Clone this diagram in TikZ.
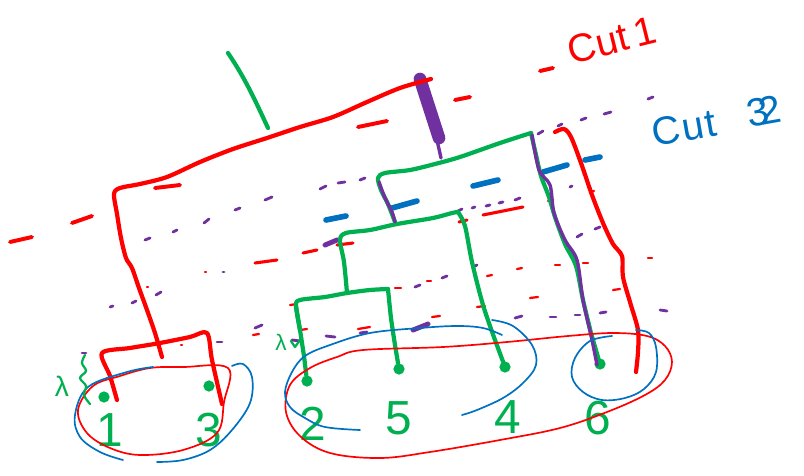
\documentclass[tikz,border=0pt]{standalone}
\usepackage{fontspec}
\setmainfont{Liberation Sans}
\usetikzlibrary{positioning}
\definecolor{cutred}{RGB}{255,0,0}
\definecolor{treegreen}{RGB}{0,176,80}
\definecolor{cutblue}{RGB}{0,112,192}
\definecolor{cutpurple}{RGB}{112,48,160}

\begin{document}
\begin{tikzpicture}[
  x=0.025cm, y=-0.025cm,
  pen/.style={line width=3pt, line cap=round, line join=round},
  fine/.style={line width=1.2pt, line cap=round, line join=round},
  speck/.style={line width=2pt, line cap=round},
  leaf/.style={circle, fill=treegreen, inner sep=0pt, minimum size=8pt},
  digit/.style={text=treegreen, font=\fontsize{34}{34}\selectfont},
  lam/.style={text=treegreen, inner sep=0pt, font=\fontsize{20}{20}\selectfont},
  cutnote/.style={inner sep=0pt, font=\fontsize{28}{28}\selectfont}
]
\useasboundingbox (0,0) rectangle (804,475);

% cut lines (hand dashes)
\foreach \xa/\ya/\xb/\yb in {10/242/32/237, 72/223/92/216, 155/188/180/185,
    358/127/387/121, 455/100/470/97, 540/71/553/68}
  \draw[speck, line width=2.8pt, cutred] (\xa,\ya) -- (\xb,\yb);
\foreach \xa/\ya/\xb/\yb in {255/263/277/260, 303/253/317/250, 337/245/353/243,
    483/215/523/207, 459/222/467/220}
  \draw[speck, line width=2.2pt, cutred] (\xa,\ya) -- (\xb,\yb);
\foreach \xa/\ya/\xb/\yb in {147/287/148/287, 205/272/206/272, 181/345/182/345,
    253/335/259/334, 300/330/307/329, 358/329/370/327, 432/317/440/316,
    477/307/485/306, 530/298/538/297, 613/290/620/289, 290/305/297/304,
    395/288/401/288, 427/281/431/281, 487/276/492/275, 517/269/522/268,
    555/265/560/265, 583/263/588/263, 648/258/652/258, 590/192/594/191,
    548/201/553/200}
  \draw[speck, line width=1.6pt, cutred] (\xa,\ya) -- (\xb,\yb);
\foreach \xa/\ya/\xb/\yb in {326/220/346/216, 392/208/417/201, 473/186/498/180,
    543/172/567/165, 585/160/600/157}
  \draw[speck, line width=4pt, cutblue] (\xa,\ya) -- (\xb,\yb);
\foreach \xa/\ya/\xb/\yb in {145/240/150/238, 173/232/177/230, 204/223/209/219,
    235/210/240/208, 265/200/272/197, 320/189/326/186, 338/183/345/182,
    360/180/365/178, 538/134/543/131, 558/126/562/124, 581/120/586/118,
    604/114/611/112, 648/99/653/97, 458/211/462/209, 472/208/475/207,
    486/206/490/205, 499/203/503/202, 515/200/520/198, 110/307/113/306,
    132/303/136/301, 156/295/161/292, 223/272/224/272, 415/287/420/285,
    442/278/447/276, 473/267/477/265, 570/187/572/186, 577/237/582/234,
    595/229/600/227, 217/342/222/342, 255/328/262/325, 292/340/300/341,
    326/336/335/337, 360/333/367/332, 515/318/522/316, 550/317/556/317,
    575/315/580/315, 600/313/606/312, 660/310/667/311, 82/353/86/353}
  \draw[speck, cutpurple] (\xa,\ya) -- (\xb,\yb);
\foreach \xa/\ya/\xb/\yb in {325/245/337/240, 413/330/428/324}
  \draw[speck, line width=3.5pt, cutpurple] (\xa,\ya) -- (\xb,\yb);

% leaves
\node[leaf] (l1) at (104,397) {};
\node[leaf] (l3) at (209,386) {};
\node[leaf] (l2) at (307,381) {};
\node[leaf] (l5) at (399,369) {};
\node[leaf] (l4) at (505,367) {};
\node[leaf] (l6) at (600,364) {};
\node[digit] (n1) at (110,430) {1};
\node[digit] (n3) at (209,430) {3};
\node[digit] (n2) at (313,424) {2};
\node[digit] (n5) at (399,418) {5};
\node[digit] (n4) at (508,417) {4};
\node[digit] (n6) at (598,418) {6};

% green tree
\draw[pen, treegreen] (228,53) .. controls (245,78) and (255,100) .. (268,128);
\draw[pen, treegreen] plot[smooth, tension=.5] coordinates {(395,222) (388,204) (381,190) (378,178)
  (385,173) (410,170) (435,164) (460,157) (500,143) (531,133)};
\draw[pen, treegreen] plot[smooth, tension=.5] coordinates {(531,133) (536,155) (541,176)
  (549,197) (555,217) (565,244) (576,266) (583,300) (591,333)} -- (l6);
\draw[pen, treegreen] plot[smooth, tension=.5] coordinates {(347,293) (344,262) (340,240)
  (346,233) (370,230) (397,224) (433,218) (452,213) (458,212)};
\draw[pen, treegreen] plot[smooth, tension=.5] coordinates {(458,212) (465,226) (472,262)
  (483,305) (495,340)} -- (l4);
\draw[pen, treegreen] plot[smooth, tension=.5] coordinates {(300,330) (296,306) (300,300)
  (325,297) (347,293) (370,290) (388,289)};
\draw[pen, treegreen] plot[smooth, tension=.5] coordinates {(296,306) (300,330) (304,356)} -- (l2);
\draw[pen, treegreen] plot[smooth, tension=.5] coordinates {(388,289) (391,318) (395,345)} -- (l5);

% purple path
\draw[cutpurple, line width=9pt, line cap=round] (420,79) -- (439,138);
\draw[pen, line width=2.4pt, cutpurple] (437,140) -- (441,158);
\draw[pen, line width=2.4pt, cutpurple] plot[smooth, tension=.5] coordinates {(379,182)
  (385,198) (392,212) (395,222)};
\draw[pen, line width=2.4pt, cutpurple] plot[smooth, tension=.5] coordinates {(532,135)
  (539,170) (550,185) (554,213) (565,240) (577,260) (583,300) (592,340) (597,365)};

% red tree
\draw[pen, cutred] plot[smooth, tension=.5] coordinates {(162,357) (155,333) (147,310)
  (139,288) (132,268) (126,258) (121,238) (117,214) (114,194) (120,188) (140,184)
  (167,177) (200,162) (233,149) (267,138) (300,127) (333,117) (367,102) (400,88) (431,79)};
\draw[pen, cutred] plot[smooth, tension=.5] coordinates {(117,400) (110,376) (102,353)
  (130,348) (160,343) (190,337) (207,333) (212,360) (222,404)};
\draw[pen, cutred] plot[smooth, tension=.5] coordinates {(555,132) (564,129) (571,137)
  (581,163) (592,195) (603,223) (613,244) (622,256) (623,277) (630,302) (638,330)
  (638,352) (636,372)};

% clusters
\draw[fine, cutred] plot[smooth cycle, tension=.6] coordinates {(228,368) (183,367) (150,368)
  (120,376) (93,386) (78,410) (87,433) (110,448) (140,455) (183,450) (217,433) (224,402)};
\draw[fine, cutblue] plot[smooth, tension=.6] coordinates {(153,367) (127,372) (88,387)
  (75,415) (80,437) (100,452) (123,460)};
\draw[fine, cutblue] plot[smooth, tension=.6] coordinates {(157,462) (183,460) (210,450)
  (232,430) (250,403) (252,377) (243,364) (232,366)};
\draw[fine, cutred] plot[smooth cycle, tension=.6] coordinates {(363,350) (443,347) (507,342)
  (568,336) (613,333) (647,336) (665,346) (672,362) (665,380) (645,395) (607,412)
  (560,428) (500,440) (430,452) (380,458) (330,453) (300,436) (286,412) (290,385)
  (310,368) (337,357)};
\draw[fine, cutblue] plot[smooth, tension=.6] coordinates {(502,335) (483,328) (457,326)
  (420,328) (370,333) (330,345) (305,356) (292,372) (285,392) (290,407) (305,418)
  (325,427) (360,430)};
\draw[fine, cutblue] plot[smooth, tension=.6] coordinates {(492,320) (513,326) (532,345)
  (536,365) (523,383) (503,398) (477,410) (462,415)};
\draw[fine, cutblue] plot[smooth, tension=.6] coordinates {(612,336) (590,341) (575,358)
  (572,377) (583,392) (602,400) (625,398) (644,389) (656,372) (656,347) (649,333) (636,330)};

% lambda marks
\node[lam] (lam1) at (62,386) {λ};
\draw[fine, line width=1.6pt, treegreen] plot[smooth, tension=.6] coordinates {(85,355) (82,363)
  (86,371) (80,378) (86,386) (84,395) (90,404)};
\node[lam, font=\fontsize{16}{16}\selectfont] (lam2) at (281,342) {λ};
\draw[fine, line width=1.6pt, treegreen] (291,341) -- (295,347) -- (300,340);

% cut labels
\node[cutnote, text=cutred, rotate=14] (cut1) at (612,40) {Cut\,1};
\node[cutnote, text=cutblue, rotate=10] (cut2) at (684,128) {C\kern1pt u\kern1pt t};
\node[cutnote, text=cutblue, rotate=10] (cutnum) at (764,111) {3\kern-7pt 2};
\end{tikzpicture}
\end{document}
